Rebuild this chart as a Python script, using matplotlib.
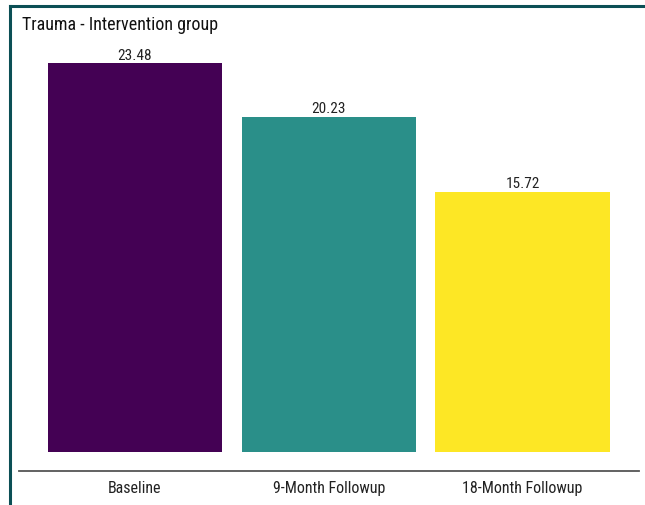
import matplotlib
matplotlib.use("Agg")
import matplotlib.pyplot as plt
from matplotlib import font_manager
from matplotlib.lines import Line2D

categories = ["Baseline", "9-Month Followup", "18-Month Followup"]
values = [23.48, 20.23, 15.72]
colors = ["#440154", "#2A8F89", "#FDE725"]
title = "Trauma - Intervention group"

installed = {f.name for f in font_manager.fontManager.ttflist}
preferred = ["Liberation Sans Narrow", "Arial Narrow", "Roboto Condensed",
             "PT Sans Narrow", "Archivo Narrow", "Liberation Sans"]
family = next(f for f in preferred if f in installed)
plt.rcParams["font.family"] = [family, "DejaVu Sans"]

W, H = 645, 505
fig = plt.figure(figsize=(W / 100, H / 100), dpi=100)
fig.patch.set_facecolor("white")

# panel placement in pixel units
left, right, top, bottom = 18.6, 639.0, 43.5, 471.4
ax = fig.add_axes([left / W, (H - bottom) / H, (right - left) / W, (bottom - top) / H])

x = list(range(len(categories)))
ax.bar(x, values, width=0.9, color=colors)
for xi, v in zip(x, values):
    ax.annotate(f"{v:.2f}", (xi, v), xytext=(0, 0.3), textcoords="offset points",
                ha="center", va="bottom", fontsize=11, color="#222222")

ymax = max(values)
ax.set_ylim(-0.05 * ymax, 1.05 * ymax)
ax.set_xlim(-0.6, len(categories) - 0.4)
ax.set_xticks(x)
ax.set_xticklabels(categories, fontsize=11.5, color="#222222")
ax.tick_params(axis="x", length=0, pad=7)
ax.set_yticks([])
for side in ["top", "right", "left"]:
    ax.spines[side].set_visible(False)
ax.spines["bottom"].set_color("#555555")
ax.spines["bottom"].set_linewidth(1.3)

fig.text(22 / W, 1 - 25 / H, title, ha="left", va="center", fontsize=13, color="#111111")

# outer frame: top and left edges
frame_color = "#0B4F55"
fig.add_artist(Line2D([10 / W, 1.0], [1 - 6 / H, 1 - 6 / H], color=frame_color, lw=2.2,
                      transform=fig.transFigure))
fig.add_artist(Line2D([10 / W, 10 / W], [0.0, 1 - 6 / H], color=frame_color, lw=2.2,
                      transform=fig.transFigure))

fig.savefig("out.png", dpi=100)
